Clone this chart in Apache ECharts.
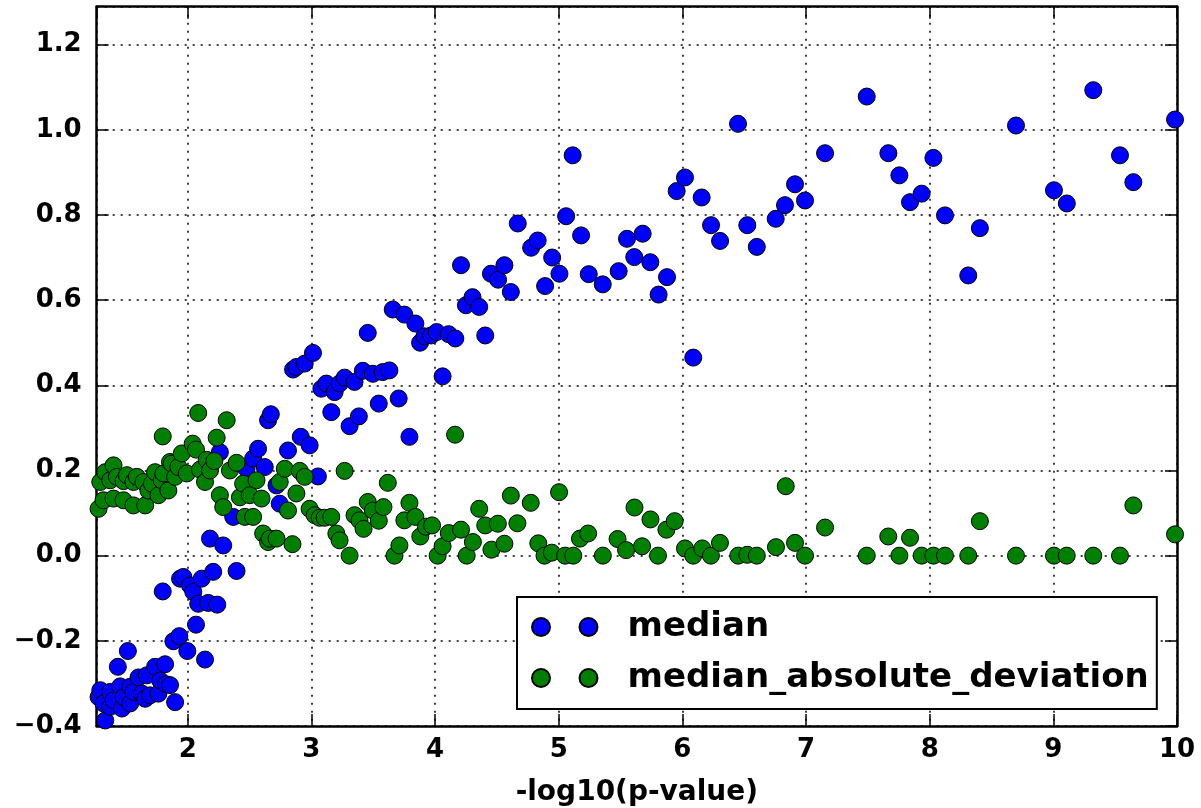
<!DOCTYPE html>
<html><head><meta charset="utf-8">
<script src="https://cdn.jsdelivr.net/npm/echarts@6/dist/echarts.min.js"></script>
<style>html,body{margin:0;padding:0;background:#fff}#c{width:1201px;height:808px}</style>
</head><body><div id="c"></div>
<script>
// ---- data (x = -log10(p-value), y = value) ----
const seriesNames = ['median', 'median_absolute_deviation'];
const medianPoints = [
[1.279,-0.332],[1.293,-0.316],[1.319,-0.347],[1.333,-0.387],[1.373,-0.320],[1.373,-0.355],[1.400,-0.340],[1.435,-0.261],[1.454,-0.307],[1.468,-0.359],
[1.481,-0.332],[1.516,-0.224],[1.535,-0.308],[1.535,-0.347],[1.561,-0.320],[1.602,-0.286],[1.629,-0.324],[1.656,-0.336],[1.669,-0.281],[1.696,-0.328],
[1.736,-0.261],[1.763,-0.324],[1.777,-0.293],[1.798,-0.084],[1.817,-0.255],[1.825,-0.302],[1.857,-0.304],[1.884,-0.201],[1.898,-0.344],[1.932,-0.189],
[1.938,-0.054],[1.965,-0.050],[1.997,-0.224],[2.019,-0.070],[2.045,-0.085],[2.067,-0.162],[2.085,-0.113],[2.113,-0.054],[2.140,-0.244],[2.166,-0.111],
[2.206,-0.038],[2.239,-0.115],[2.395,-0.036],
[2.260,0.243],[2.368,0.091],[2.180,0.040],[2.287,0.024],[2.476,0.204],[2.529,0.228],[2.569,0.251],[2.623,0.208],[2.650,0.318],[2.672,0.332],
[2.718,0.165],[2.744,0.122],[2.811,0.247],[2.852,0.437],[2.879,0.443],[2.914,0.279],[2.946,0.451],[2.986,0.259],[3.013,0.476],[3.053,0.186],
[3.081,0.392],[3.121,0.404],[3.161,0.337],[3.188,0.384],[3.228,0.404],[3.269,0.418],[3.309,0.304],[3.349,0.408],[3.384,0.327],[3.416,0.434],
[3.456,0.523],[3.497,0.427],[3.545,0.357],[3.577,0.431],[3.631,0.435],[3.658,0.578],[3.706,0.369],[3.752,0.566],[3.793,0.279],[3.841,0.545],
[3.879,0.500],[3.914,0.515],[3.968,0.517],[4.013,0.525],[4.061,0.421],[4.110,0.520],[4.164,0.510],[4.210,0.682],[4.250,0.588],[4.303,0.607],
[4.357,0.584],[4.406,0.517],[4.452,0.662],[4.510,0.648],[4.561,0.682],[4.613,0.619],[4.669,0.780],[4.777,0.723],[4.830,0.740],[4.890,0.633],
[4.947,0.700],[5.006,0.662],[5.060,0.797],[5.113,0.940],[5.181,0.752],[5.243,0.661],[5.356,0.637],[5.485,0.668],[5.552,0.744],[5.611,0.701],
[5.679,0.756],[5.741,0.689],[5.808,0.613],[5.876,0.654],[5.954,0.856],[6.021,0.888],[6.088,0.465],[6.156,0.841],[6.232,0.776],[6.305,0.739],
[6.450,1.014],[6.525,0.776],[6.602,0.725],[6.755,0.791],[6.830,0.823],[6.911,0.872],[6.992,0.834],[7.154,0.945],[7.491,1.078],[7.666,0.945],
[7.755,0.893],[7.841,0.830],[7.935,0.850],[8.030,0.934],[8.124,0.799],[8.312,0.658],[8.406,0.769],[8.698,1.010],[9.005,0.858],[9.109,0.827],
[9.323,1.093],[9.539,0.940],[9.647,0.877],[9.984,1.024]
];
const madPoints = [
[1.279,0.110],[1.293,0.173],[1.319,0.130],[1.333,0.196],[1.373,0.177],[1.400,0.212],[1.400,0.134],[1.427,0.185],[1.481,0.175],[1.481,0.130],
[1.508,0.189],[1.561,0.173],[1.561,0.118],[1.589,0.185],[1.642,0.173],[1.656,0.118],[1.682,0.153],[1.710,0.169],[1.736,0.196],[1.763,0.142],
[1.790,0.177],[1.798,0.280],[1.803,0.193],[1.843,0.153],[1.857,0.220],[1.871,0.216],[1.898,0.185],[1.924,0.208],[1.952,0.240],[1.992,0.193],
[2.040,0.263],[2.067,0.249],[2.085,0.335],[2.099,0.202],[2.140,0.173],[2.153,0.225],[2.180,0.200],[2.215,0.222],[2.234,0.277],[2.260,0.142],
[2.287,0.114],[2.315,0.318],[2.341,0.200],[2.395,0.218],[2.422,0.137],[2.448,0.169],[2.462,0.091],[2.502,0.142],[2.529,0.091],[2.556,0.177],
[2.597,0.134],[2.610,0.052],[2.650,0.032],[2.664,0.040],[2.718,0.040],[2.744,0.173],[2.785,0.204],[2.811,0.106],[2.847,0.027],[2.879,0.146],
[2.906,0.199],[2.946,0.185],[2.986,0.110],[3.027,0.095],[3.067,0.089],[3.107,0.089],[3.161,0.091],[3.202,0.052],[3.228,0.036],[3.269,0.199],
[3.309,0.000],[3.349,0.095],[3.389,0.083],[3.422,0.063],[3.456,0.126],[3.497,0.106],[3.545,0.082],[3.583,0.114],[3.618,0.171],[3.672,0.000],
[3.712,0.024],[3.752,0.083],[3.793,0.124],[3.841,0.091],[3.881,0.045],[3.926,0.068],[3.976,0.071],[4.021,0.000],[4.061,0.022],[4.111,0.053],
[4.162,0.284],[4.210,0.061],[4.256,0.000],[4.306,0.032],[4.357,0.110],[4.406,0.071],[4.456,0.014],[4.508,0.075],[4.561,0.028],[4.613,0.141],
[4.666,0.076],[4.774,0.124],[4.835,0.029],[4.885,0.000],[4.944,0.007],[5.003,0.149],[5.052,0.000],[5.118,0.000],[5.172,0.040],[5.238,0.052],
[5.357,0.000],[5.476,0.039],[5.545,0.013],[5.613,0.113],[5.674,0.022],[5.742,0.085],[5.803,0.000],[5.871,0.061],[5.938,0.081],[6.021,0.017],
[6.088,0.000],[6.161,0.017],[6.231,0.000],[6.304,0.030],[6.452,0.000],[6.525,0.002],[6.602,0.000],[6.757,0.020],[6.836,0.163],[6.911,0.030],
[6.992,0.000],[7.154,0.066],[7.491,0.000],[7.665,0.045],[7.755,0.000],[7.841,0.042],[7.935,0.000],[8.030,0.000],[8.124,0.000],[8.312,0.000],
[8.406,0.081],[8.698,0.000],[9.005,0.000],[9.108,0.000],[9.323,0.000],[9.539,0.000],[9.647,0.118],[9.984,0.050]
];
const xRange = [1.264, 10];
const yRange = [-0.4, 1.289];
const yStep = 0.2;
const xAxisTitle = '-log10(p-value)';

// ---- chart ----
const FONT = 'DejaVu Sans';
const gridLine = { show: true, lineStyle: { color: '#000', width: 1.5, type: [2, 6] } };
const tickIn = { show: true, inside: true, length: 12, lineStyle: { color: '#000', width: 1.5 } };
const frameLine = { show: true, onZero: false, lineStyle: { color: '#000', width: 2.5 } };
const fmtX = v => Math.abs(v - Math.round(v)) < 1e-6 ? String(Math.round(v)) : '';
const fmtY = v => {
  const k = v / yStep;
  if (Math.abs(k - Math.round(k)) > 1e-6) return '';
  const r = Math.round(k) * yStep;
  if (Math.abs(r) < 1e-9) return '0.0';
  return r.toFixed(1).replace('-', '\u2212');
};
const lblStyle = { color: '#000', fontFamily: FONT, fontWeight: 'bold', fontSize: 26 };
const twoDots = 'path://M0,9A9,9,0,1,1,18,9A9,9,0,1,1,0,9ZM47.5,9A9,9,0,1,1,65.5,9A9,9,0,1,1,47.5,9Z';

const chart = echarts.init(document.getElementById('c'), null, { renderer: 'canvas' });
chart.setOption({
  animation: false,
  backgroundColor: '#fff',
  grid: { left: 96.7, right: 24, top: 6.7, bottom: 82, containLabel: false, outerBoundsMode: 'none' },
  xAxis: [
    { type: 'value', position: 'bottom', min: xRange[0], max: xRange[1], splitNumber: 9,
      axisLine: frameLine, axisTick: tickIn, splitLine: gridLine,
      axisLabel: Object.assign({ margin: 11, formatter: fmtX, showMinLabel: false }, lblStyle),
      name: xAxisTitle, nameLocation: 'middle', nameGap: 53,
      nameTextStyle: { color: '#000', fontFamily: FONT, fontWeight: 'bold', fontSize: 28 } },
    { type: 'value', position: 'top', min: xRange[0], max: xRange[1], splitNumber: 9,
      axisLine: frameLine, axisTick: tickIn, splitLine: { show: false }, axisLabel: { show: false } }
  ],
  yAxis: [
    { type: 'value', position: 'left', min: yRange[0], max: yRange[1], interval: yStep,
      axisLine: frameLine, axisTick: tickIn, splitLine: gridLine,
      axisLabel: Object.assign({ margin: 15, formatter: fmtY, showMaxLabel: false }, lblStyle) },
    { type: 'value', position: 'right', min: yRange[0], max: yRange[1], interval: yStep,
      axisLine: frameLine, axisTick: tickIn, splitLine: { show: false }, axisLabel: { show: false } }
  ],
  legend: {
    orient: 'vertical', left: 517, top: 597,
    padding: [10, 8, 11, 14], itemGap: 11,
    backgroundColor: '#fff', borderColor: '#000', borderWidth: 2, borderRadius: 0,
    itemWidth: 65.5, itemHeight: 18, icon: twoDots,
    textStyle: { color: '#000', fontFamily: FONT, fontWeight: 'bold', fontSize: 34, lineHeight: 40, padding: [0, 0, 0, 25] },
    data: seriesNames
  },
  series: [
    { name: seriesNames[0], type: 'scatter', xAxisIndex: 0, yAxisIndex: 0, data: medianPoints,
      symbol: 'circle', symbolSize: 17,
      itemStyle: { color: '#0000ff', borderColor: '#000', borderWidth: 1, opacity: 1 } },
    { name: seriesNames[1], type: 'scatter', xAxisIndex: 0, yAxisIndex: 0, data: madPoints,
      symbol: 'circle', symbolSize: 17,
      itemStyle: { color: '#008000', borderColor: '#000', borderWidth: 1, opacity: 1 } }
  ]
});
</script></body></html>
